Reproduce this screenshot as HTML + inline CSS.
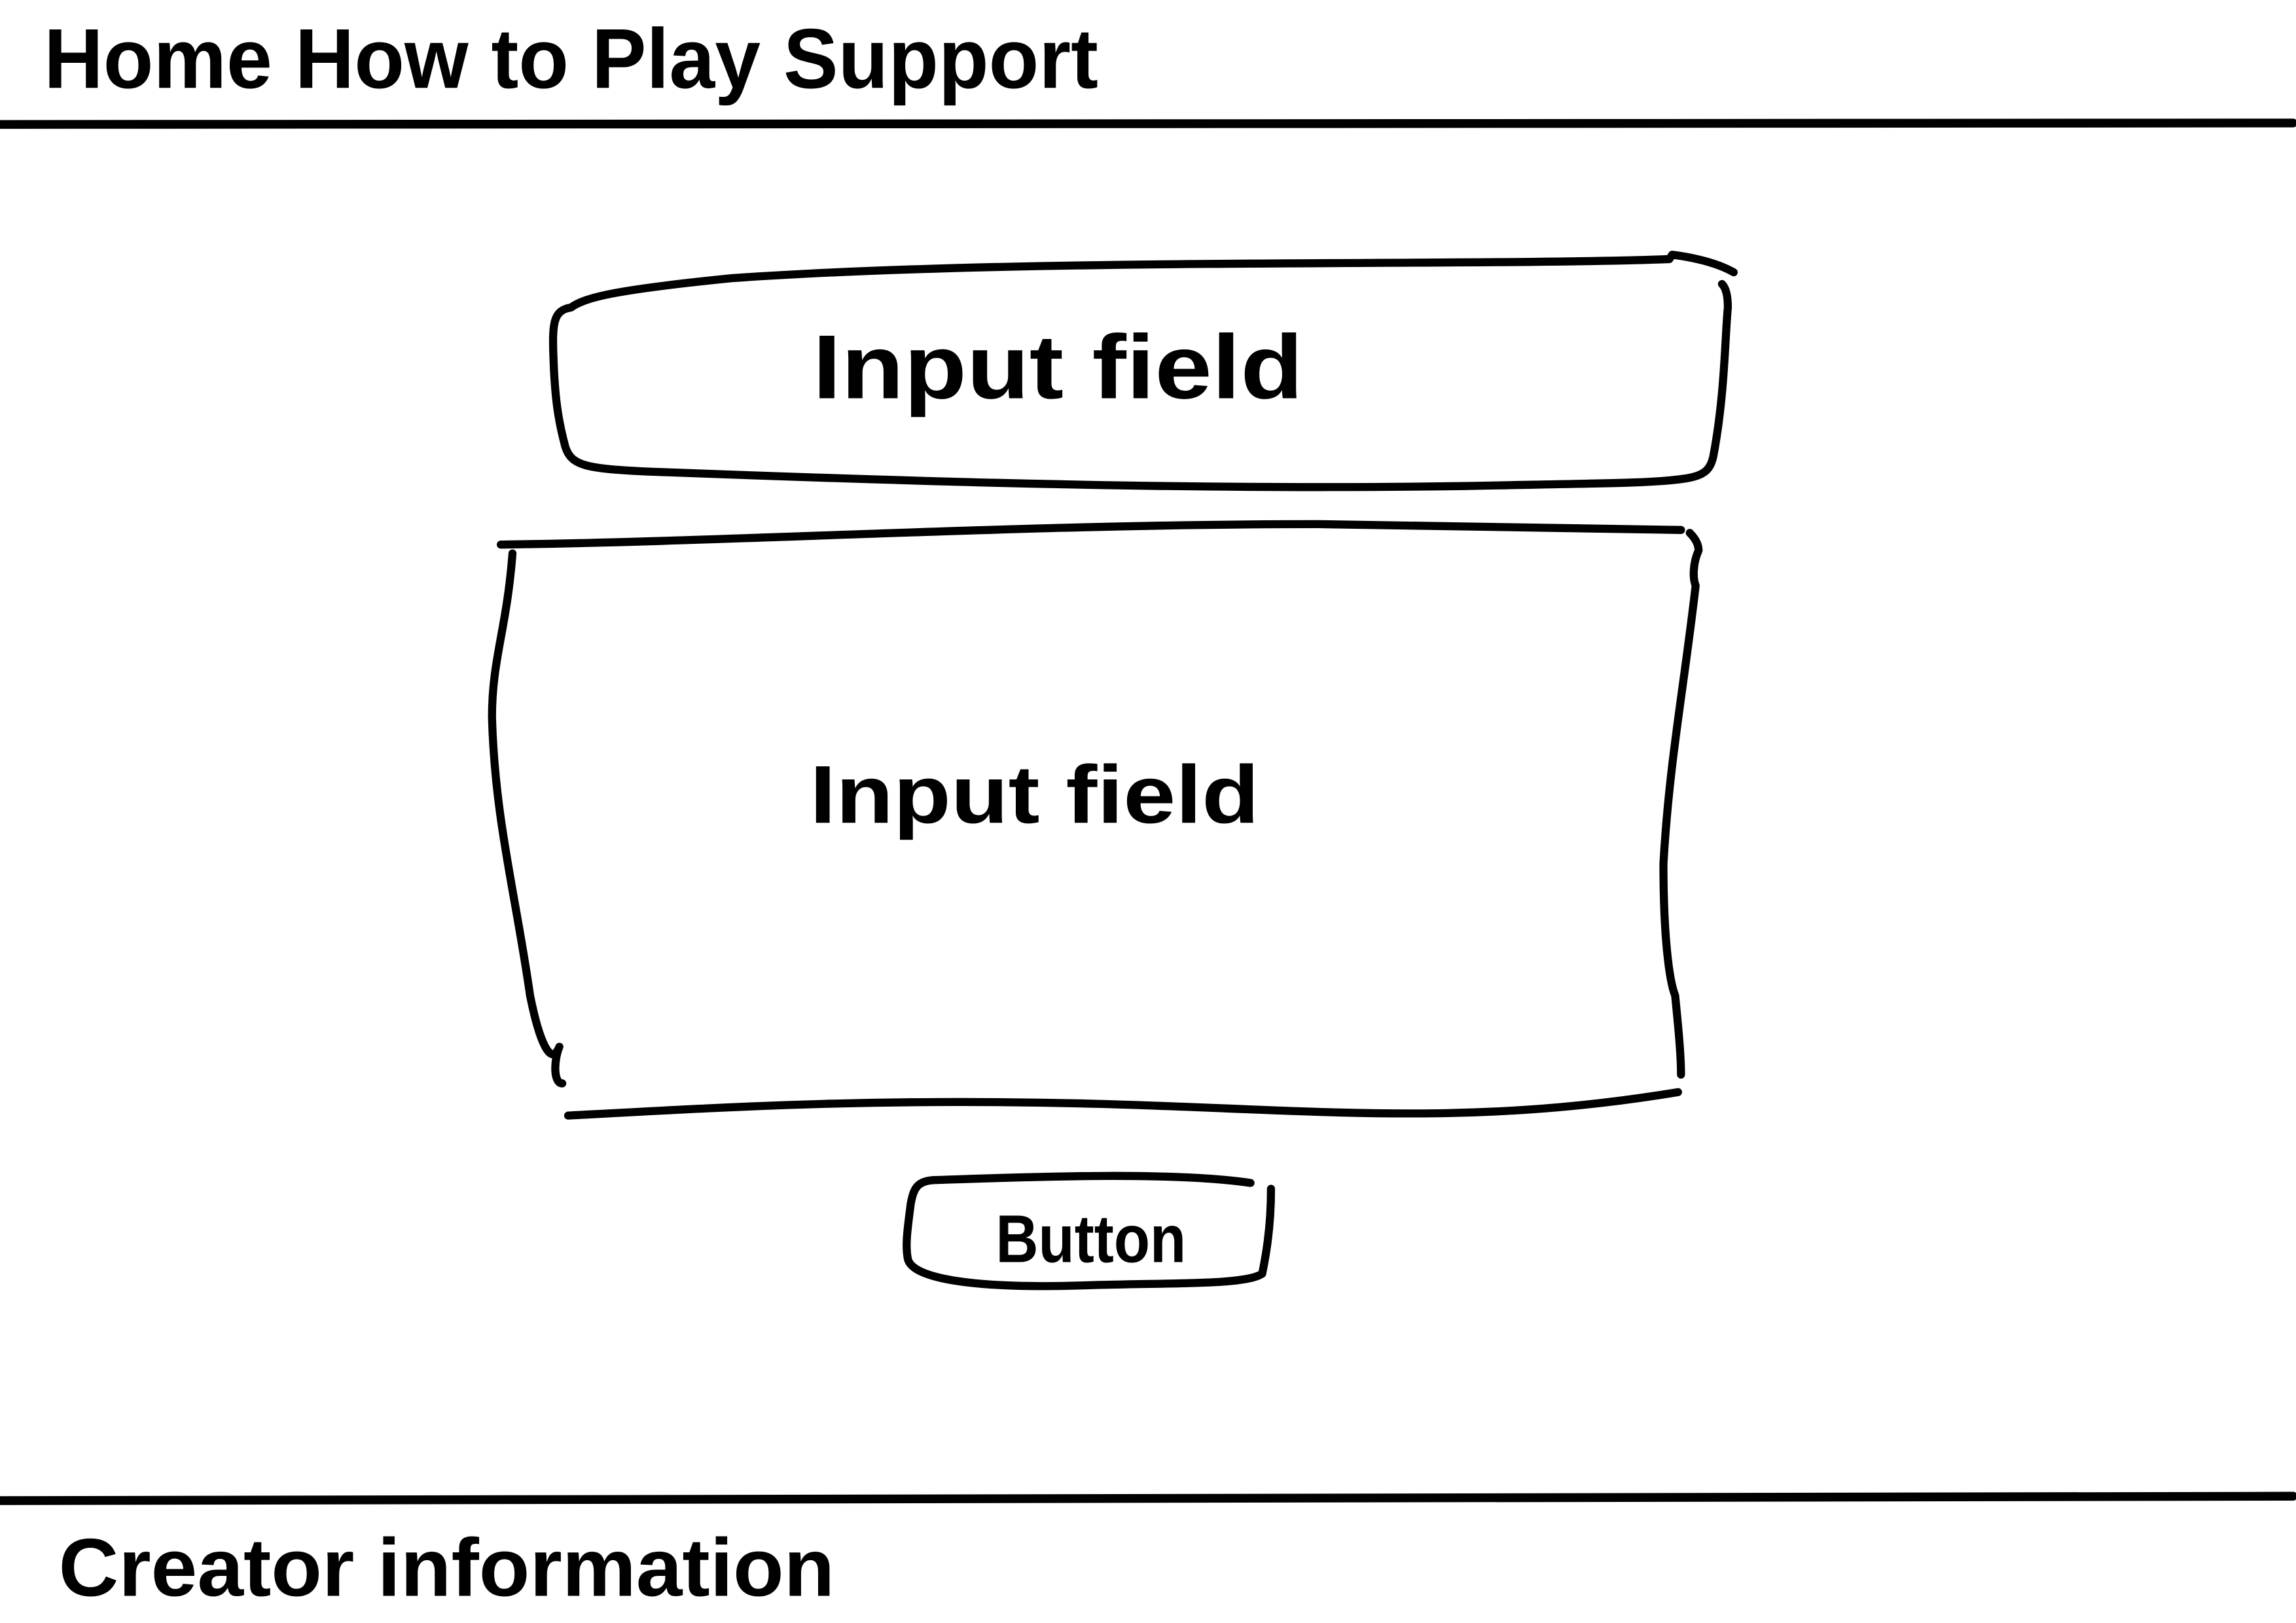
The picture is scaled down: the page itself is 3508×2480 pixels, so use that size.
<!DOCTYPE html>
<html><head><meta charset="utf-8"><style>
html,body{margin:0;padding:0;background:#fff;}
svg{display:block;}
text{font-family:"Liberation Sans",sans-serif;font-weight:bold;fill:#000;}
</style></head><body>
<svg width="3508" height="2480" viewBox="0 0 1568 1108.6" preserveAspectRatio="none" xmlns="http://www.w3.org/2000/svg">
<g fill="none" stroke="#000" stroke-width="5.5" stroke-linecap="round" stroke-linejoin="round">
<path d="M0 85 C400 83 900 81 1566 84" stroke-width="6"/>
<path d="M1184 186 C1170 178 1150 175 1142 174 L1140 177 C1000 182 700 176 500 190 C420 198 400 203 390 210 C378 212 377 220 378 245 C379 275 382 290 386 305 C390 318 400 320 440 322 C600 328 800 335 1000 332 C1100 330 1130 330 1150 327 C1165 325 1168 320 1170 312 C1178 270 1178 230 1180 210 C1180 200 1178 196 1176 194"/>
<path d="M342 372 C500 370 700 358 900 358 C1000 360 1100 362 1148 362"/>
<path d="M350 378 C346 430 336 450 336 490 C338 560 352 610 362 680 C368 710 376 730 382 715 C378 725 378 740 384 740"/>
<path d="M1154 364 C1158 368 1160 372 1160 376 C1156 385 1156 395 1158 400 C1150 470 1140 520 1136 590 C1136 640 1140 670 1144 680 C1146 700 1148 720 1148 734"/>
<path d="M388 762 C500 756 600 750 750 754 C900 758 1000 770 1146 746"/>
<path d="M854 808 C800 800 700 804 640 806 C626 806 624 812 622 822 C620 838 618 850 620 860 C624 876 680 880 740 878 C800 876 850 878 862 870 C864 860 868 840 868 812"/>
<path d="M0 1025 C500 1022 1000 1020 1566 1022" stroke-width="6"/>
</g>
<text x="30" y="60" font-size="58" textLength="720" lengthAdjust="spacingAndGlyphs">Home  How to Play  Support</text>
<text x="555" y="272" font-size="62" textLength="335" lengthAdjust="spacingAndGlyphs">Input field</text>
<text x="553" y="562" font-size="56" textLength="307" lengthAdjust="spacingAndGlyphs">Input field</text>
<text x="680" y="862" font-size="46" textLength="130" lengthAdjust="spacingAndGlyphs">Button</text>
<text x="40" y="1090" font-size="56" textLength="530" lengthAdjust="spacingAndGlyphs">Creator information</text>
</svg>
</body></html>
